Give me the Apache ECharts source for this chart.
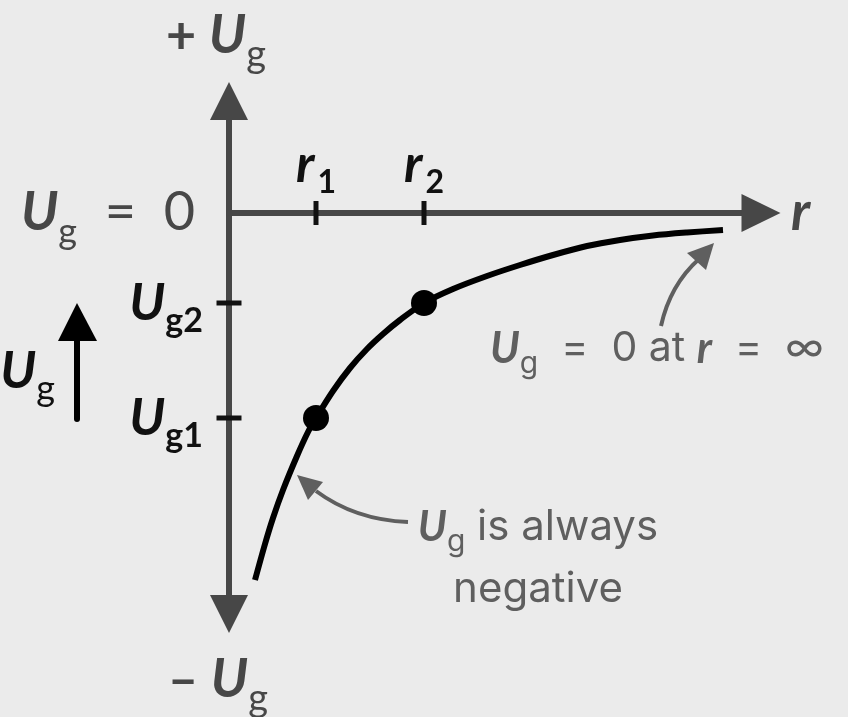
<!DOCTYPE html>
<html>
<head>
<meta charset="utf-8">
<style>
  html, body { margin: 0; padding: 0; background: #ebebeb; }
  #chart { width: 848px; height: 717px; }
</style>
<script src="https://cdn.jsdelivr.net/npm/echarts@6/dist/echarts.min.js"></script>
</head>
<body>
<div id="chart"></div>
<script>
// potential energy curve (arbitrary units, origin where the axes cross)
const curveR  = [2.6, 3.6, 4.4, 5.4, 6.8, 7.9, 8.7, 10.4, 12.1, 13.8, 15.4, 17.1, 19.5, 22.4, 25.8, 29.1, 32.4, 35.8, 39.1, 42.4, 45.8, 49.4];
const curveUg = [-36.7, -33.1, -30.5, -27.7, -24.3, -21.9, -20.5, -17.8, -15.5, -13.6, -12.1, -10.7, -9.0, -7.6, -6.3, -5.2, -4.2, -3.3, -2.7, -2.25, -1.95, -1.7];

// the two marked positions r1, r2 and their energies Ug1, Ug2
const pointR  = [8.7, 19.5];
const pointUg = [-20.5, -9.0];
const tickNames = ['1', '2'];

const axisColor = '#474747';
const noteColor = '#5f5f5f';
const FONT = 'Lato';
const NOTE_FONT = 'Inter';

const chart = echarts.init(document.getElementById('chart'));

function nearest(arr, v) {
  let best = 0;
  arr.forEach((a, i) => { if (Math.abs(a - v) < Math.abs(arr[best] - v)) best = i; });
  return best;
}

const option = {
  animation: false,
  backgroundColor: '#ebebeb',
  grid: { left: 229, top: 101, width: 532, height: 513 },
  xAxis: {
    type: 'value',
    min: 0,
    max: 53.2,
    name: 'r',
    nameGap: 30,
    nameTextStyle: { fontFamily: FONT, fontStyle: 'italic', fontWeight: 'bold', fontSize: 54, color: axisColor },
    axisLine: {
      onZero: true,
      symbol: ['none', 'triangle'],
      symbolSize: [38, 39],
      lineStyle: { color: axisColor, width: 6 }
    },
    axisTick: { show: false },
    splitLine: { show: false },
    axisLabel: { show: false }
  },
  yAxis: {
    type: 'value',
    min: -40.1,
    max: 11.2,
    axisLine: {
      onZero: true,
      symbol: ['triangle', 'triangle'],
      symbolSize: [38, 38],
      lineStyle: { color: axisColor, width: 6 }
    },
    axisTick: { show: false },
    splitLine: { show: false },
    axisLabel: {
      customValues: pointUg.concat([0]),
      margin: 26,
      formatter: v => {
        if (Math.abs(v) < 1e-6) return '{u|U}{g|g}{eq|  =  0}';
        return '{ub|U}{gb|g' + tickNames[nearest(pointUg, v)] + '}';
      },
      rich: {
        ub: { fontFamily: FONT, fontStyle: 'italic', fontWeight: 'bold', fontSize: 52, color: '#111' },
        gb: { fontFamily: FONT, fontWeight: 'bold', fontSize: 34, color: '#111', padding: [36, 0, 0, 0] },
        u: { fontFamily: FONT, fontStyle: 'italic', fontWeight: 'bold', fontSize: 54, color: axisColor },
        g: { fontFamily: FONT, fontSize: 36, color: axisColor, padding: [38, 0, 0, 0] },
        eq: { fontFamily: FONT, fontSize: 54, color: axisColor, padding: [0, 8, 0, 0] }
      }
    }
  },
  series: [
    {
      type: 'line',
      data: curveR.map((r, i) => [r, curveUg[i]]),
      smooth: 0.3,
      showSymbol: false,
      lineStyle: { color: '#000', width: 6, cap: 'butt', join: 'round' },
      z: 3
    },
    {
      // crossing ticks on the r axis, labelled r1, r2 above
      type: 'scatter',
      data: pointR.map(r => [r, 0]),
      symbol: 'rect',
      symbolSize: [5, 24],
      itemStyle: { color: '#111', opacity: 1 },
      label: {
        show: true,
        position: 'top',
        distance: 2,
        formatter: p => '{r|r}{s|' + tickNames[p.dataIndex] + '}',
        rich: {
          r: { fontFamily: FONT, fontStyle: 'italic', fontWeight: 'bold', fontSize: 52, color: '#111' },
          s: { fontFamily: FONT, fontWeight: 'bold', fontSize: 32, color: '#111', padding: [35, 0, 0, 3] }
        }
      },
      z: 4
    },
    {
      // crossing ticks on the Ug axis
      type: 'scatter',
      data: pointUg.map(u => [0, u]),
      symbol: 'rect',
      symbolSize: [25, 5],
      itemStyle: { color: '#111', opacity: 1 },
      z: 4
    },
    {
      type: 'scatter',
      data: pointR.map((r, i) => [r, pointUg[i]]),
      symbol: 'circle',
      symbolSize: 26,
      itemStyle: { color: '#000', opacity: 1 },
      z: 5
    }
  ],
  graphic: [
    {
      type: 'text', x: 166, y: 36, z: 10,
      style: {
        text: '{p|+ }{u|U}{g|g}', align: 'left', verticalAlign: 'middle',
        rich: {
          p: { fontFamily: FONT, fontSize: 52, fontWeight: 'bold', fill: axisColor },
          u: { fontFamily: FONT, fontStyle: 'italic', fontWeight: 'bold', fontSize: 54, fill: axisColor },
          g: { fontFamily: FONT, fontSize: 38, fill: axisColor, padding: [38, 0, 0, 0] }
        }
      }
    },
    {
      type: 'text', x: 168, y: 680, z: 10,
      style: {
        text: '{p|– }{u|U}{g|g}', align: 'left', verticalAlign: 'middle',
        rich: {
          p: { fontFamily: FONT, fontSize: 52, fontWeight: 'bold', fill: axisColor },
          u: { fontFamily: FONT, fontStyle: 'italic', fontWeight: 'bold', fontSize: 54, fill: axisColor },
          g: { fontFamily: FONT, fontSize: 38, fill: axisColor, padding: [38, 0, 0, 0] }
        }
      }
    },
    {
      // "Ug increases" hint on the far left
      type: 'text', x: 55, y: 371, z: 10,
      style: {
        text: '{u|U}{g|g}', align: 'right', verticalAlign: 'middle',
        rich: {
          u: { fontFamily: FONT, fontStyle: 'italic', fontWeight: 'bold', fontSize: 52, fill: '#111' },
          g: { fontFamily: FONT, fontSize: 36, fill: '#111', padding: [36, 0, 0, 0] }
        }
      }
    },
    { type: 'line', z: 10, shape: { x1: 77, y1: 338, x2: 77, y2: 419 }, style: { stroke: '#000', lineWidth: 6, lineCap: 'round' } },
    { type: 'polygon', z: 10, shape: { points: [[77, 303], [58, 341], [97, 341]] }, style: { fill: '#000' } },
    {
      type: 'text', x: 490, y: 349, z: 10,
      style: {
        text: '{u|U}{g|g}{t|  =  0 at }{r|r}{t|  =  ∞}', align: 'left', verticalAlign: 'middle',
        rich: {
          u: { fontFamily: FONT, fontStyle: 'italic', fontWeight: 'bold', fontSize: 43, fill: noteColor },
          g: { fontFamily: NOTE_FONT, fontSize: 30, fill: noteColor, padding: [30, 0, 0, 0] },
          t: { fontFamily: NOTE_FONT, fontSize: 41, fill: noteColor },
          r: { fontFamily: FONT, fontStyle: 'italic', fontWeight: 'bold', fontSize: 43, fill: noteColor }
        }
      }
    },
    { type: 'bezierCurve', z: 10, shape: { x1: 661, y1: 326, cpx1: 670, cpy1: 285, x2: 699, y2: 259 }, style: { stroke: noteColor, lineWidth: 4, fill: null } },
    { type: 'polygon', z: 10, shape: { points: [[714, 243], [687, 253], [706, 270]] }, style: { fill: noteColor } },
    {
      type: 'text', x: 538, y: 527, z: 10,
      style: {
        text: '{u|U}{g|g}{t| is always}', align: 'center', verticalAlign: 'middle',
        rich: {
          u: { fontFamily: FONT, fontStyle: 'italic', fontWeight: 'bold', fontSize: 42, fill: noteColor },
          g: { fontFamily: NOTE_FONT, fontSize: 30, fill: noteColor, padding: [30, 0, 0, 0] },
          t: { fontFamily: NOTE_FONT, fontSize: 42, fill: noteColor }
        }
      }
    },
    {
      type: 'text', x: 538, y: 589, z: 10,
      style: { text: 'negative', align: 'center', verticalAlign: 'middle', fontFamily: NOTE_FONT, fontSize: 42, fill: noteColor }
    },
    { type: 'bezierCurve', z: 10, shape: { x1: 408, y1: 522, cpx1: 355, cpy1: 520, x2: 316, y2: 491 }, style: { stroke: noteColor, lineWidth: 4, fill: null } },
    { type: 'polygon', z: 10, shape: { points: [[297, 475], [323, 482], [308, 500]] }, style: { fill: noteColor } }
  ]
};

chart.setOption(option);
</script>
</body>
</html>
